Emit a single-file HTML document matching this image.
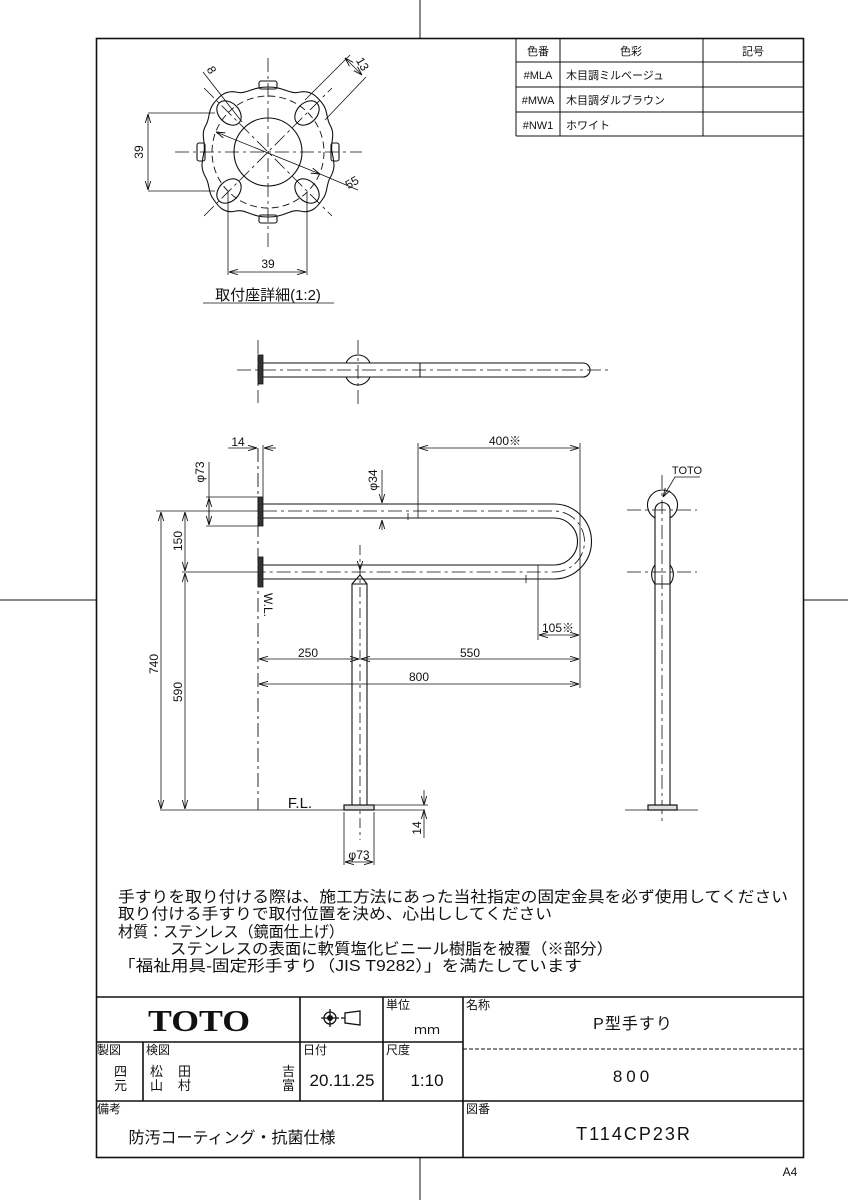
<!DOCTYPE html>
<html><head><meta charset="utf-8"><style>
html,body{margin:0;padding:0;background:#fff}
svg{display:block}
text{font-family:"Liberation Sans","Noto Sans CJK JP",sans-serif;fill:#111}
</style></head><body>
<svg width="848" height="1200" viewBox="0 0 848 1200" xmlns="http://www.w3.org/2000/svg">
<defs>
<marker id="a" viewBox="0 0 10 10" refX="10" refY="5" markerWidth="9" markerHeight="9" orient="auto-start-reverse" markerUnits="userSpaceOnUse"><path d="M0,2 L10,5 L0,8" fill="none" stroke="#111" stroke-width="1"/></marker>
</defs>
<g stroke="#111" fill="none" stroke-width="1">
<line x1="420" y1="0" x2="420" y2="38"/><line x1="420" y1="1158" x2="420" y2="1200"/>
<line x1="0" y1="600" x2="96" y2="600"/><line x1="803" y1="600" x2="848" y2="600"/>
<rect x="96.5" y="38.5" width="707" height="1119" stroke-width="1.6"/>
<line x1="516" y1="38" x2="516" y2="136"/><line x1="560" y1="38" x2="560" y2="136"/><line x1="703" y1="38" x2="703" y2="136"/>
<line x1="516" y1="62" x2="803" y2="62"/><line x1="516" y1="87" x2="803" y2="87"/><line x1="516" y1="112" x2="803" y2="112"/><line x1="516" y1="136" x2="803" y2="136"/>

<g stroke-dasharray="14,4,3,4" stroke-width="0.8">
<line x1="268" y1="58" x2="268" y2="248"/><line x1="175" y1="152" x2="362" y2="152"/>
<line x1="204" y1="88" x2="332" y2="216"/><line x1="204" y1="216" x2="332" y2="88"/>
</g>
<circle cx="268" cy="152" r="56" stroke-dasharray="7,4" stroke-width="0.9"/>
<circle cx="268" cy="152" r="34" stroke-width="1.1"/>
<path d="M268,87 C285,87 290,95 300,92 C312,90 318,98 322,103 C328,110 326,118 330,125 C336,135 330,142 332,152 C334,162 336,168 330,178 C326,185 328,193 322,200 C318,206 312,214 300,211 C290,209 285,217 268,217 C251,217 246,209 236,211 C224,214 218,206 214,200 C208,193 210,185 206,178 C200,168 202,162 204,152 C206,142 200,135 206,125 C210,118 208,110 214,103 C218,98 224,90 236,92 C246,95 251,87 268,87Z" stroke-width="1.1"/>
<g stroke-width="1.1">
<ellipse cx="229" cy="113" rx="14" ry="10" transform="rotate(45 229 113)"/>
<ellipse cx="307" cy="113" rx="14" ry="10" transform="rotate(-45 307 113)"/>
<ellipse cx="229" cy="191" rx="14" ry="10" transform="rotate(-45 229 191)"/>
<ellipse cx="307" cy="191" rx="14" ry="10" transform="rotate(45 307 191)"/>
<rect x="259" y="81" width="18" height="8" rx="2"/>
<rect x="259" y="215" width="18" height="8" rx="2"/>
<rect x="197" y="143" width="8" height="18" rx="2"/>
<rect x="331" y="143" width="8" height="18" rx="2"/>
</g>
<line x1="148" y1="113" x2="215" y2="113" stroke-width="0.8"/><line x1="148" y1="191" x2="215" y2="191" stroke-width="0.8"/>
<line x1="148" y1="114" x2="148" y2="190" marker-start="url(#a)" marker-end="url(#a)" stroke-width="0.8"/>
<line x1="228" y1="192" x2="228" y2="275" stroke-width="0.8"/><line x1="307" y1="192" x2="307" y2="275" stroke-width="0.8"/>
<line x1="229" y1="272" x2="306" y2="272" marker-start="url(#a)" marker-end="url(#a)" stroke-width="0.8"/>
<line x1="203" y1="72" x2="242" y2="122" stroke-width="0.8"/>
<line x1="305" y1="100" x2="350" y2="55" stroke-width="0.8"/><line x1="325" y1="120" x2="366" y2="77" stroke-width="0.8"/>
<line x1="345" y1="58" x2="362" y2="75" marker-start="url(#a)" marker-end="url(#a)" stroke-width="0.8"/>
<line x1="216" y1="132" x2="320" y2="174" marker-start="url(#a)" marker-end="url(#a)" stroke-width="0.8"/>
<line x1="320" y1="174" x2="358" y2="190" stroke-width="0.8"/>
<line x1="203" y1="303" x2="334" y2="303" stroke-width="0.8"/>

<g stroke-dasharray="14,4,3,4" stroke-width="0.8">
<line x1="237" y1="370" x2="608" y2="370"/><line x1="258" y1="340" x2="258" y2="403"/><line x1="358" y1="340" x2="358" y2="405"/>
</g>
<rect x="258" y="355" width="5" height="29" fill="#333" stroke-width="0.8"/>
<path d="M263,363 L583,363 A7,7 0 0 1 583,377 L263,377" stroke-width="1.1"/>
<path d="M346,363 A13,13 0 0 1 370,363 M346,377 A13,13 0 0 0 370,377" stroke-width="1.1"/>
<line x1="420" y1="363" x2="420" y2="377"/>

<line x1="258" y1="448" x2="258" y2="810" stroke-dasharray="14,4,3,4" stroke-width="0.9"/>
<line x1="263" y1="445" x2="263" y2="497" stroke-width="0.8"/>
<rect x="258" y="497" width="5" height="29" fill="#333" stroke-width="0.8"/>
<rect x="258" y="557" width="5" height="30" fill="#333" stroke-width="0.8"/>
<path d="M263,504 L554,504 A37.5,37.5 0 0 1 554,579 L263,579 M263,518 L554,518 A23.5,23.5 0 0 1 554,565 L263,565" stroke-width="1.1"/>
<path d="M263,511 L554,511 A30.5,30.5 0 0 1 554,572 L263,572" stroke-dasharray="14,4,3,4" stroke-width="0.8"/>
<line x1="408" y1="513" x2="408" y2="520" stroke-width="0.8"/><line x1="526" y1="575" x2="526" y2="583" stroke-width="0.8"/>
<path d="M352,805 L352,584 L360,575 L367,584 L367,805 M352,584 L367,584" stroke-width="1.1"/>
<line x1="360" y1="545" x2="360" y2="840" stroke-dasharray="10,4,3,4" stroke-width="0.8"/>
<rect x="344" y="805" width="30" height="5" fill="#ddd" stroke-width="1.2"/>
<line x1="360" y1="565" x2="360" y2="570" marker-end="url(#a)" stroke-width="0.8"/>
<line x1="160" y1="810" x2="425" y2="810" stroke-width="0.8"/>
<line x1="374" y1="805" x2="428" y2="805" stroke-width="0.8"/>
<line x1="424" y1="790" x2="424" y2="805" marker-end="url(#a)" stroke-width="0.8"/>
<line x1="424" y1="838" x2="424" y2="810" marker-end="url(#a)" stroke-width="0.8"/>
<line x1="344" y1="812" x2="344" y2="865" stroke-width="0.8"/><line x1="374" y1="812" x2="374" y2="865" stroke-width="0.8"/>
<line x1="345" y1="862" x2="373" y2="862" marker-start="url(#a)" marker-end="url(#a)" stroke-width="0.8"/>
<line x1="156" y1="511" x2="258" y2="511" stroke-width="0.8"/><line x1="182" y1="572" x2="258" y2="572" stroke-width="0.8"/>
<line x1="161" y1="512" x2="161" y2="809" marker-start="url(#a)" marker-end="url(#a)" stroke-width="0.8"/>
<line x1="185" y1="512" x2="185" y2="571" marker-start="url(#a)" marker-end="url(#a)" stroke-width="0.8"/>
<line x1="185" y1="573" x2="185" y2="809" marker-start="url(#a)" marker-end="url(#a)" stroke-width="0.8"/>
<line x1="206" y1="497" x2="258" y2="497" stroke-width="0.8"/><line x1="206" y1="526" x2="258" y2="526" stroke-width="0.8"/>
<line x1="209" y1="462" x2="209" y2="525" stroke-width="0.8"/>
<line x1="209" y1="498" x2="209" y2="525" marker-start="url(#a)" marker-end="url(#a)" stroke-width="0.8"/>
<line x1="228" y1="448" x2="257" y2="448" marker-end="url(#a)" stroke-width="0.8"/>
<line x1="276" y1="448" x2="264" y2="448" marker-end="url(#a)" stroke-width="0.8"/>
<line x1="382" y1="470" x2="382" y2="503" marker-end="url(#a)" stroke-width="0.8"/>
<line x1="382" y1="530" x2="382" y2="520" marker-end="url(#a)" stroke-width="0.8"/>
<line x1="418" y1="443" x2="418" y2="518" stroke-width="0.8"/>
<line x1="580" y1="443" x2="580" y2="688" stroke-width="0.8"/>
<line x1="419" y1="448" x2="579" y2="448" marker-start="url(#a)" marker-end="url(#a)" stroke-width="0.8"/>
<line x1="538" y1="565" x2="538" y2="640" stroke-width="0.8"/>
<line x1="539" y1="635" x2="579" y2="635" marker-start="url(#a)" marker-end="url(#a)" stroke-width="0.8"/>
<line x1="259" y1="659" x2="359" y2="659" marker-start="url(#a)" marker-end="url(#a)" stroke-width="0.8"/>
<line x1="361" y1="659" x2="579" y2="659" marker-start="url(#a)" marker-end="url(#a)" stroke-width="0.8"/>
<line x1="259" y1="684" x2="579" y2="684" marker-start="url(#a)" marker-end="url(#a)" stroke-width="0.8"/>

<g stroke-dasharray="14,4,3,4" stroke-width="0.8">
<line x1="627" y1="510" x2="697" y2="510"/><line x1="627" y1="572" x2="697" y2="572"/>
<line x1="662" y1="475" x2="662" y2="825"/><line x1="625" y1="810" x2="698" y2="810" stroke-dasharray="none"/>
</g>
<path d="M655,805 L655,510 A7.5,7.5 0 0 1 670,510 L670,805" stroke-width="1.1"/>
<path d="M655,518 A15,15 0 1 1 670,518 M655,565 A15,15 0 0 0 655,584 M670,565 A15,15 0 0 1 670,584 M655,584 L670,584" stroke-width="1.1"/>
<rect x="648" y="805" width="29" height="5" fill="#ddd" stroke-width="1.2"/>
<path d="M700,477 L675,477 L663,497" stroke-width="0.8" marker-end="url(#a)"/>

<g stroke-width="1.6">
<line x1="96" y1="997" x2="803" y2="997"/>
<line x1="96" y1="1042" x2="463" y2="1042"/>
<line x1="96" y1="1101" x2="803" y2="1101"/>
<line x1="463" y1="997" x2="463" y2="1158"/>
<line x1="300" y1="997" x2="300" y2="1101"/>
<line x1="383" y1="997" x2="383" y2="1101"/>
<line x1="143" y1="1042" x2="143" y2="1101"/>
</g>
<line x1="463" y1="1049" x2="803" y2="1049" stroke-dasharray="4,2"/>
<circle cx="330" cy="1018" r="6" stroke-width="1.3"/><circle cx="330" cy="1018" r="2.5" fill="#111"/>
<line x1="321" y1="1018" x2="339" y2="1018" stroke-width="1.3"/><line x1="330" y1="1009" x2="330" y2="1027" stroke-width="1.3"/>
<path d="M341,1018 L345,1018 M345,1013 L345,1023 L360,1025 L360,1011 Z" stroke-width="1.3"/>
</g>

<g font-size="11" text-anchor="middle">
<text x="538" y="55">色番</text><text x="631" y="55">色彩</text><text x="753" y="55">記号</text>
<text x="538" y="79">#MLA</text><text x="538" y="104">#MWA</text><text x="538" y="129">#NW1</text>
</g>
<g font-size="11">
<text x="566" y="79">木目調ミルベージュ</text><text x="566" y="104">木目調ダルブラウン</text><text x="566" y="129">ホワイト</text>
</g>

<g font-size="12" text-anchor="middle">
<text x="143" y="152" transform="rotate(-90 143 152)">39</text>
<text x="268" y="268">39</text>
<text x="208" y="72" transform="rotate(60 208 72)">8</text>
<text x="359" y="66" transform="rotate(60 359 66)">13</text>
<text x="354" y="186" transform="rotate(-30 354 186)">55</text>
<text x="268" y="300" font-size="15">取付座詳細(1:2)</text>
<text x="238" y="446">14</text>
<text x="204" y="472" transform="rotate(-90 204 472)">φ73</text>
<text x="377" y="480" transform="rotate(-90 377 480)">φ34</text>
<text x="505" y="445">400※</text>
<text x="182" y="541" transform="rotate(-90 182 541)">150</text>
<text x="158" y="664" transform="rotate(-90 158 664)">740</text>
<text x="182" y="692" transform="rotate(-90 182 692)">590</text>
<text x="308" y="657">250</text><text x="470" y="657">550</text><text x="419" y="681">800</text>
<text x="558" y="632">105※</text>
<text x="264" y="605" transform="rotate(90 264 605)">W.L.</text>
<text x="300" y="808" font-size="15">F.L.</text>
<text x="421" y="828" transform="rotate(-90 421 828)">14</text>
<text x="359" y="859">φ73</text>
<text x="687" y="474" font-size="11">TOTO</text>
</g>

<g font-size="15.5">
<text x="118" y="902" textLength="670" lengthAdjust="spacingAndGlyphs">手すりを取り付ける際は、施工方法にあった当社指定の固定金具を必ず使用してください</text>
<text x="118" y="919" textLength="434" lengthAdjust="spacingAndGlyphs">取り付ける手すりで取付位置を決め、心出ししてください</text>
<text x="118" y="937" textLength="226" lengthAdjust="spacingAndGlyphs">材質：ステンレス（鏡面仕上げ）</text>
<text x="170" y="954" textLength="443" lengthAdjust="spacingAndGlyphs">ステンレスの表面に軟質塩化ビニール樹脂を被覆（※部分）</text>
<text x="118" y="971" textLength="464" lengthAdjust="spacingAndGlyphs">「福祉用具-固定形手すり（JIS T9282）」を満たしています</text>
</g>

<text x="199" y="1031" style="font-family:'Liberation Serif',serif;font-weight:bold" font-size="31" text-anchor="middle" textLength="102" lengthAdjust="spacingAndGlyphs">TOTO</text>
<g font-size="12">
<text x="386" y="1009">単位</text><text x="466" y="1009">名称</text>
<text x="97" y="1054">製図</text><text x="146" y="1054">検図</text><text x="303" y="1054">日付</text><text x="386" y="1054">尺度</text>
<text x="97" y="1113">備考</text><text x="466" y="1113">図番</text>
</g>
<text x="414" y="1034" font-size="13">ｍｍ</text>
<g font-size="13">
<text x="114" y="1076">四</text><text x="114" y="1090">元</text>
<text x="150" y="1076">松</text><text x="178" y="1076">田</text><text x="150" y="1090">山</text><text x="178" y="1090">村</text>
<text x="282" y="1076">吉</text><text x="282" y="1090">富</text>
</g>
<text x="342" y="1086" font-size="17" text-anchor="middle">20.11.25</text>
<text x="427" y="1086" font-size="17" text-anchor="middle">1:10</text>
<text x="633" y="1029" font-size="16" text-anchor="middle" letter-spacing="1">P型手すり</text>
<text x="633" y="1082" font-size="17" text-anchor="middle" letter-spacing="4">800</text>
<text x="634" y="1140" font-size="18" text-anchor="middle" letter-spacing="2">T114CP23R</text>
<text x="232" y="1143" font-size="16" text-anchor="middle">防汚コーティング・抗菌仕様</text>
<text x="790" y="1176" font-size="12" text-anchor="middle">A4</text>
</svg>
</body></html>
